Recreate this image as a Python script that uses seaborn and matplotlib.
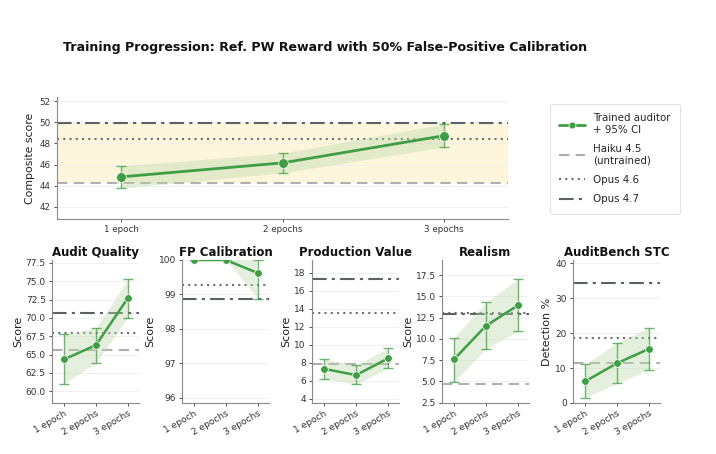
import matplotlib
matplotlib.use("Agg")
import matplotlib.pyplot as plt
import seaborn as sns
import numpy as np
import pandas as pd
from matplotlib.lines import Line2D

sns.set_theme(style="whitegrid")
plt.rcParams['font.family'] = ['DejaVu Sans']

epochs = ["1 epoch", "2 epochs", "3 epochs"]

# Composite
comp_mean = [44.84, 46.16, 48.72]
comp_lo = [43.77, 45.22, 47.65]
comp_hi = [45.88, 47.08, 49.82]
comp_haiku = 44.3
comp_opus46 = 48.44
comp_opus47 = 49.92

# Sub-metrics
sub_titles = ["Audit Quality", "FP Calibration", "Production Value", "Realism", "AuditBench STC"]
sub_ylabels = ["Score", "Score", "Score", "Score", "Detection %"]
aq_mean = [64.35, 66.3, 72.7]
aq_lo = [61.0, 63.9, 70.05]
aq_hi = [67.75, 68.65, 75.3]
fp_mean = [100.0, 100.0, 99.62]
fp_lo = [100.0, 100.0, 98.88]
fp_hi = [100.0, 100.0, 100.0]
pv_mean = [7.3, 6.6, 8.45]
pv_lo = [6.15, 5.6, 7.35]
pv_hi = [8.4, 7.7, 9.6]
re_mean = [7.6, 11.55, 13.95]
re_lo = [4.95, 8.85, 10.9]
re_hi = [10.15, 14.3, 17.05]
ab_mean = [6.2, 11.4, 15.5]
ab_lo = [1.55, 5.6, 9.5]
ab_hi = [11.1, 17.3, 21.6]
sub_haiku = [65.65, 95.0, 7.85, 4.65, 11.4]
sub_opus46 = [68.0, 99.26, 13.5, 13.1, 18.7]
sub_opus47 = [70.65, 98.88, 17.3, 12.95, 34.4]
sub_ylims = [(58.4, 77.9), (95.85, 100.0), (3.5, 19.4), (2.45, 19.3), (0, 41)]
sub_yticks = [[60, 62.5, 65, 67.5, 70, 72.5, 75, 77.5], [96, 97, 98, 99, 100],
              [4, 6, 8, 10, 12, 14, 16, 18], [2.5, 5, 7.5, 10, 12.5, 15, 17.5], [0, 10, 20, 30, 40]]
sub_yfmt = ["{:.1f}", "{:.0f}", "{:.0f}", "{:.1f}", "{:.0f}"]

GREEN = "#3f9e44"
FILL = "#b9d9a8"
HAIKU_C = "#b0b0b0"
O46_C = "#707070"
O47_C = "#5a6266"
BAND = "#fdf5dc"

W, H = 716, 454
fig = plt.figure(figsize=(W / 100, H / 100), dpi=100)

def rect(l, t, r, b):
    return [l / W, 1 - b / H, (r - l) / W, (b - t) / H]

def style_ax(ax, fs):
    ax.grid(axis="x", visible=False)
    ax.grid(axis="y", color="#eeeeee", linewidth=0.6)
    for s in ["top", "right"]:
        ax.spines[s].set_visible(False)
    for s in ["left", "bottom"]:
        ax.spines[s].set_color("#888888")
        ax.spines[s].set_linewidth(0.8)
    ax.tick_params(axis="both", labelsize=fs, colors="#333333", length=2.5, width=0.6,
                   left=True, bottom=True, pad=2)

def draw_series(ax, mean, lo, hi, ms, lw):
    x = np.arange(len(epochs))
    df = pd.DataFrame({"x": x, "y": mean})
    ax.fill_between(x, lo, hi, color=FILL, alpha=0.38, linewidth=0, zorder=2)
    sns.lineplot(data=df, x="x", y="y", ax=ax, color=GREEN, linewidth=lw, marker="o",
                 markersize=ms, markeredgecolor="white", markeredgewidth=0.5, zorder=4)
    m = np.array(mean); l = np.array(lo); h = np.array(hi)
    ax.errorbar(x, m, yerr=[m - l, h - m], fmt="none", ecolor=GREEN, elinewidth=1.0,
                capsize=3.5, capthick=1.0, alpha=0.75, zorder=3)

def ref_lines(ax, haiku, o46, o47, lw):
    ax.axhline(haiku, color=HAIKU_C, linestyle=(0, (5, 3)), linewidth=lw, zorder=1)
    ax.axhline(o46, color=O46_C, linestyle=(0, (1, 2)), linewidth=lw, zorder=1)
    ax.axhline(o47, color=O47_C, linestyle=(0, (7, 2.5, 1.5, 2.5)), linewidth=lw, zorder=1)

# ---- top composite panel
ax0 = fig.add_axes(rect(57, 97, 508, 219))
style_ax(ax0, 6.3)
ax0.axhspan(comp_haiku, comp_opus47, color=BAND, zorder=0, linewidth=0)
ref_lines(ax0, comp_haiku, comp_opus46, comp_opus47, 1.5)
draw_series(ax0, comp_mean, comp_lo, comp_hi, 7, 2.0)
ax0.set_xlim(-0.4, 2.4)
ax0.set_ylim(40.86, 52.38)
ax0.set_yticks([42, 44, 46, 48, 50, 52])
ax0.set_xticks(range(3))
ax0.set_xticklabels(epochs)
ax0.set_xlabel("")
ax0.set_ylabel("Composite score", fontsize=7.8, color="#222222", labelpad=3)

fig.text(325 / W, 1 - 48 / H, "Training Progression: Ref. PW Reward with 50% False-Positive Calibration",
         ha="center", va="center", fontsize=9.1, fontweight="bold", color="#111111")

# ---- bottom panels
lefts = [52, 182, 312, 442, 573]
sub_data = [(aq_mean, aq_lo, aq_hi), (fp_mean, fp_lo, fp_hi), (pv_mean, pv_lo, pv_hi),
            (re_mean, re_lo, re_hi), (ab_mean, ab_lo, ab_hi)]
for i, left in enumerate(lefts):
    ax = fig.add_axes(rect(left, 260, left + 87, 403))
    style_ax(ax, 6.5)
    ref_lines(ax, sub_haiku[i], sub_opus46[i], sub_opus47[i], 1.5)
    mean, lo, hi = sub_data[i]
    draw_series(ax, mean, lo, hi, 5.5, 1.8)
    ax.set_xlim(-0.38, 2.35)
    ax.set_ylim(*sub_ylims[i])
    ax.set_yticks(sub_yticks[i])
    ax.set_yticklabels([sub_yfmt[i].format(v) for v in sub_yticks[i]])
    ax.set_xticks(range(3))
    ax.set_xticklabels(epochs, rotation=30, ha="right", rotation_mode="anchor")
    ax.set_xlabel("")
    ax.set_ylabel(sub_ylabels[i], fontsize=8, color="#222222", labelpad=2)
    ax.set_title(sub_titles[i], fontsize=8.5, fontweight="bold", color="#111111", pad=3)

# ---- legend
handles = [
    Line2D([], [], color=GREEN, linewidth=2.0, marker="o", markersize=5,
           markeredgecolor="white", markeredgewidth=0.5),
    Line2D([], [], color=HAIKU_C, linestyle=(0, (5, 3)), linewidth=1.5),
    Line2D([], [], color=O46_C, linestyle=(0, (1, 2)), linewidth=1.5),
    Line2D([], [], color=O47_C, linestyle=(0, (7, 2.5, 1.5, 2.5)), linewidth=1.5),
]
labels = ["Trained auditor\n+ 95% CI", "Haiku 4.5\n(untrained)", "Opus 4.6", "Opus 4.7"]
leg = fig.legend(handles, labels, loc="upper left", bbox_to_anchor=(545 / W, 1 - 99 / H),
                 fontsize=7.4, frameon=True, handlelength=2.5, labelspacing=0.9,
                 borderpad=0.9, handletextpad=0.8)
leg.get_frame().set_edgecolor("#dddddd")
leg.get_frame().set_linewidth(0.8)

fig.savefig("out.png", dpi=100)
